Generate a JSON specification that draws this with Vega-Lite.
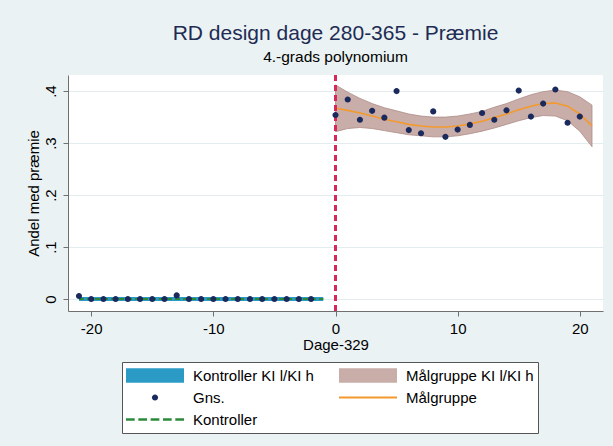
{
  "$schema": "https://vega.github.io/schema/vega-lite/v6.json",
  "autosize": "none",
  "width": 535,
  "height": 236,
  "padding": {"left": 68, "top": 75, "right": 10, "bottom": 135},
  "background": "#eaf2f3",
  "title": {
    "text": "RD design dage 280-365 - Præmie",
    "subtitle": "4.-grads polynomium",
    "anchor": "middle",
    "font": "Liberation Sans",
    "fontSize": 21,
    "fontWeight": "normal",
    "color": "#1e2b54",
    "subtitleFont": "Liberation Sans",
    "subtitleFontSize": 15.5,
    "subtitleColor": "#000000",
    "subtitlePadding": 6,
    "offset": 9
  },
  "datasets": {
    "gns": [
      {"x": -21, "y": 0.006, "s": "Gns."},
      {"x": -20, "y": 0, "s": "Gns."},
      {"x": -19, "y": 0, "s": "Gns."},
      {"x": -18, "y": 0, "s": "Gns."},
      {"x": -17, "y": 0, "s": "Gns."},
      {"x": -16, "y": 0, "s": "Gns."},
      {"x": -15, "y": 0, "s": "Gns."},
      {"x": -14, "y": 0, "s": "Gns."},
      {"x": -13, "y": 0.007, "s": "Gns."},
      {"x": -12, "y": 0, "s": "Gns."},
      {"x": -11, "y": 0, "s": "Gns."},
      {"x": -10, "y": 0, "s": "Gns."},
      {"x": -9, "y": 0, "s": "Gns."},
      {"x": -8, "y": 0, "s": "Gns."},
      {"x": -7, "y": 0, "s": "Gns."},
      {"x": -6, "y": 0, "s": "Gns."},
      {"x": -5, "y": 0, "s": "Gns."},
      {"x": -4, "y": 0, "s": "Gns."},
      {"x": -3, "y": 0, "s": "Gns."},
      {"x": -2, "y": 0, "s": "Gns."},
      {"x": 0, "y": 0.354, "s": "Gns."},
      {"x": 1, "y": 0.384, "s": "Gns."},
      {"x": 2, "y": 0.345, "s": "Gns."},
      {"x": 3, "y": 0.362, "s": "Gns."},
      {"x": 4, "y": 0.349, "s": "Gns."},
      {"x": 5, "y": 0.400, "s": "Gns."},
      {"x": 6, "y": 0.325, "s": "Gns."},
      {"x": 7, "y": 0.319, "s": "Gns."},
      {"x": 8, "y": 0.361, "s": "Gns."},
      {"x": 9, "y": 0.312, "s": "Gns."},
      {"x": 10, "y": 0.326, "s": "Gns."},
      {"x": 11, "y": 0.335, "s": "Gns."},
      {"x": 12, "y": 0.358, "s": "Gns."},
      {"x": 13, "y": 0.345, "s": "Gns."},
      {"x": 14, "y": 0.363, "s": "Gns."},
      {"x": 15, "y": 0.401, "s": "Gns."},
      {"x": 16, "y": 0.351, "s": "Gns."},
      {"x": 17, "y": 0.376, "s": "Gns."},
      {"x": 18, "y": 0.403, "s": "Gns."},
      {"x": 19, "y": 0.339, "s": "Gns."},
      {"x": 20, "y": 0.351, "s": "Gns."}
    ],
    "kontroller": [
      {"x": -21, "fit": 0, "lo": -0.004, "hi": 0.004},
      {"x": -1, "fit": 0, "lo": -0.004, "hi": 0.004}
    ],
    "maalgruppe": [
      {"x": 0, "fit": 0.367, "lo": 0.322, "hi": 0.412},
      {"x": 1, "fit": 0.363, "lo": 0.328, "hi": 0.398},
      {"x": 2, "fit": 0.358, "lo": 0.330, "hi": 0.386},
      {"x": 3, "fit": 0.352, "lo": 0.328, "hi": 0.376},
      {"x": 4, "fit": 0.346, "lo": 0.324, "hi": 0.368},
      {"x": 5, "fit": 0.341, "lo": 0.320, "hi": 0.362},
      {"x": 6, "fit": 0.336, "lo": 0.316, "hi": 0.356},
      {"x": 7, "fit": 0.333, "lo": 0.314, "hi": 0.352},
      {"x": 8, "fit": 0.331, "lo": 0.312, "hi": 0.350},
      {"x": 9, "fit": 0.331, "lo": 0.312, "hi": 0.350},
      {"x": 10, "fit": 0.333, "lo": 0.314, "hi": 0.352},
      {"x": 11, "fit": 0.337, "lo": 0.318, "hi": 0.356},
      {"x": 12, "fit": 0.342, "lo": 0.323, "hi": 0.361},
      {"x": 13, "fit": 0.349, "lo": 0.329, "hi": 0.369},
      {"x": 14, "fit": 0.356, "lo": 0.336, "hi": 0.376},
      {"x": 15, "fit": 0.364, "lo": 0.343, "hi": 0.385},
      {"x": 16, "fit": 0.371, "lo": 0.349, "hi": 0.393},
      {"x": 17, "fit": 0.376, "lo": 0.353, "hi": 0.399},
      {"x": 18, "fit": 0.377, "lo": 0.352, "hi": 0.402},
      {"x": 19, "fit": 0.371, "lo": 0.343, "hi": 0.399},
      {"x": 20, "fit": 0.356, "lo": 0.323, "hi": 0.389},
      {"x": 21, "fit": 0.333, "lo": 0.293, "hi": 0.373}
    ]
  },
  "encoding": {
    "x": {
      "field": "x",
      "type": "quantitative",
      "title": "Dage-329",
      "scale": {"domain": [-21.9, 21.9], "nice": false, "zero": false},
      "axis": {
        "values": [-20, -10, 0, 10, 20],
        "labelExpr": "datum.value < 0 ? '-' + format(-datum.value, 'd') : format(datum.value, 'd')",
        "grid": false,
        "labelPadding": 5,
        "titlePadding": 1
      }
    }
  },
  "layer": [
    {
      "data": {"name": "kontroller"},
      "mark": {"type": "area", "color": "#2b9bc6", "opacity": 1},
      "encoding": {
        "y": {
          "field": "lo",
          "type": "quantitative",
          "title": "Andel med præmie",
          "scale": {"domain": [-0.023, 0.431], "nice": false, "zero": false},
          "axis": {
            "values": [0, 0.1, 0.2, 0.3, 0.4],
            "labelExpr": "replace(format(datum.value, '.1~f'), '0.', '.')",
            "labelAngle": 270,
            "labelPadding": 5,
            "titlePadding": 2,
            "grid": true
          }
        },
        "y2": {"field": "hi"}
      }
    },
    {
      "data": {"name": "maalgruppe"},
      "mark": {"type": "area", "color": "#c9ada9", "opacity": 1, "stroke": "#ad8c87", "strokeWidth": 0.8},
      "encoding": {
        "y": {"field": "lo", "type": "quantitative", "title": "Andel med præmie"},
        "y2": {"field": "hi"}
      }
    },
    {
      "data": {"name": "kontroller"},
      "mark": {"type": "line", "color": "#2b8a3a", "strokeWidth": 2, "strokeDash": [5, 3]},
      "encoding": {
        "y": {"field": "fit", "type": "quantitative", "title": "Andel med præmie"}
      }
    },
    {
      "data": {"name": "maalgruppe"},
      "mark": {"type": "line", "color": "#f39a2e", "strokeWidth": 1.6},
      "encoding": {
        "y": {"field": "fit", "type": "quantitative", "title": "Andel med præmie"}
      }
    },
    {
      "data": {"name": "gns"},
      "mark": {"type": "rule", "color": "#d8285a", "strokeWidth": 1.5, "strokeDash": [6, 4]},
      "encoding": {
        "x": {"datum": 0, "type": "quantitative"}
      }
    },
    {
      "data": {"name": "gns"},
      "mark": {"type": "point", "filled": true, "opacity": 1, "size": 3364},
      "encoding": {
        "y": {"field": "y", "type": "quantitative", "title": "Andel med præmie"},
        "color": {
          "field": "s",
          "type": "nominal",
          "scale": {
            "domain": ["Kontroller KI l/KI h", "Gns.", "Kontroller", "Målgruppe KI l/KI h", "Målgruppe"],
            "range": ["#2b9bc6", "#1b2a5c", "#2b8a3a", "#c9ada9", "#f39a2e"]
          }
        },
        "shape": {
          "field": "s",
          "type": "nominal",
          "scale": {
            "domain": ["Kontroller KI l/KI h", "Gns.", "Kontroller", "Målgruppe KI l/KI h", "Målgruppe"],
            "range": [
              "M-1,-0.25H1V0.25H-1Z",
              "M-0.105,0A0.105,0.105 0 1,0 0.105,0A0.105,0.105 0 1,0 -0.105,0Z",
              "M-1,-0.04H-0.7V0.04H-1Z M-0.575,-0.04H-0.275V0.04H-0.575Z M-0.15,-0.04H0.15V0.04H-0.15Z M0.275,-0.04H0.575V0.04H0.275Z M0.7,-0.04H1V0.04H0.7Z",
              "M-1,-0.25H1V0.25H-1Z",
              "M-1,-0.035H1V0.035H-1Z"
            ]
          }
        }
      }
    }
  ],
  "config": {
    "view": {"stroke": null, "fill": "#ffffff"},
    "axis": {
      "labelFont": "Liberation Sans",
      "titleFont": "Liberation Sans",
      "labelFontSize": 15,
      "titleFontSize": 15,
      "labelColor": "#000000",
      "titleColor": "#000000",
      "titleFontWeight": "normal",
      "domainColor": "#707070",
      "tickColor": "#707070",
      "tickSize": 5,
      "gridColor": "#e3ecef"
    },
    "legend": {
      "orient": "none",
      "legendX": 54,
      "legendY": 287,
      "title": null,
      "columns": 2,
      "columnPadding": 25,
      "rowPadding": 3,
      "padding": 4,
      "strokeColor": "#555555",
      "fillColor": "#ffffff",
      "symbolSize": 3364,
      "symbolStrokeWidth": 0,
      "clipHeight": 19,
      "labelOffset": 9,
      "labelFont": "Liberation Sans",
      "labelFontSize": 15,
      "labelColor": "#000000",
      "labelLimit": 220
    }
  }
}
